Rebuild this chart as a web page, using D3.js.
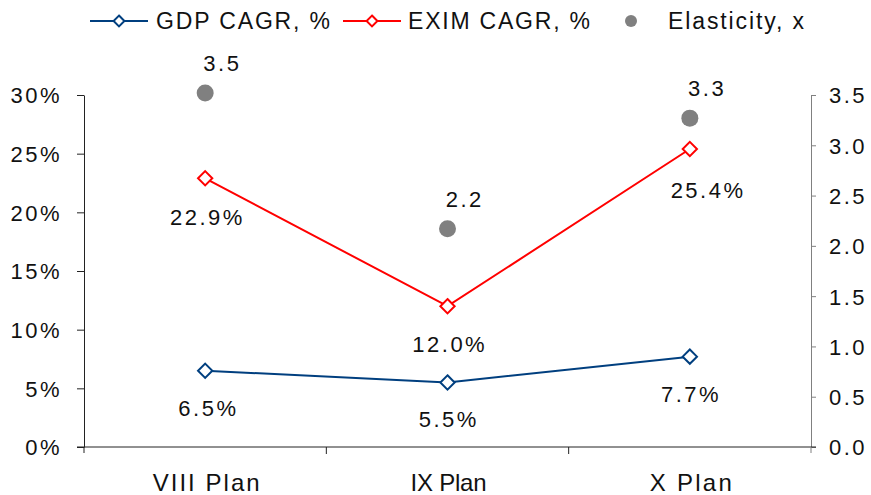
<!DOCTYPE html>
<html>
<head>
<meta charset="utf-8">
<script src="https://cdn.jsdelivr.net/npm/d3@7"></script>
<style>
  body { margin: 0; background: #fff; }
  svg text { font-family: "Liberation Sans", Arial, sans-serif; fill: #111; }
</style>
</head>
<body>
<svg id="chart" width="871" height="495"></svg>
<script>
// Plan periods and growth figures
const plans = ["VIII Plan", "IX Plan", "X Plan"];
const gdpCagr = [6.5, 5.5, 7.7];
const eximCagr = [22.9, 12.0, 25.4];
const elasticity = [3.52, 2.17, 3.27];
const leftTicks = [0, 5, 10, 15, 20, 25, 30];
const rightTicks = [0, 0.5, 1, 1.5, 2, 2.5, 3, 3.5];

const svg = d3.select("#chart");
const m = { left: 84, right: 811, top: 95, bottom: 447 };
const LS = 2.5; // tracking for numeric labels
const FS = "22px";

const x = d3.scaleBand().domain(plans).range([m.left, m.right]);
const yL = d3.scaleLinear().domain([0, 30]).range([m.bottom, m.top]);
const yR = d3.scaleLinear().domain([0, 3.5]).range([m.bottom, m.top]);
const cx = d => x(d) + x.bandwidth() / 2;

// Left axis
const gl = svg.append("g").attr("transform", `translate(${m.left},0)`)
  .call(d3.axisLeft(yL).tickValues(leftTicks).tickFormat(d => d + "%").tickSize(7).tickSizeOuter(0).tickPadding(15));
gl.select(".domain").attr("stroke", "#222");
gl.selectAll(".tick line").attr("stroke", "#222");
gl.selectAll("text").style("font-size", FS).style("letter-spacing", LS + "px")
  .attr("fill", "#111").attr("dy", "0.36em");

// Right axis
const gr = svg.append("g").attr("transform", `translate(${m.right},0)`)
  .call(d3.axisRight(yR).tickValues(rightTicks).tickFormat(d3.format(".1f")).tickSize(5).tickSizeOuter(0).tickPadding(13));
gr.selectAll("path, line").attr("stroke", "#808080");
gr.selectAll("text").style("font-size", FS).style("letter-spacing", LS + "px")
  .attr("fill", "#111").attr("dy", "0.36em");

// Bottom axis with ticks between categories
svg.append("line").attr("x1", m.left - 7).attr("x2", m.right + 5)
  .attr("y1", m.bottom).attr("y2", m.bottom).attr("stroke", "#222");
svg.selectAll(".xtick").data(plans.slice(1)).enter().append("line")
  .attr("x1", d => x(d)).attr("x2", d => x(d))
  .attr("y1", m.bottom).attr("y2", m.bottom + 7).attr("stroke", "#222");
[m.left, m.right].forEach(px => svg.append("line").attr("x1", px).attr("x2", px)
  .attr("y1", m.bottom).attr("y2", m.bottom + 6).attr("stroke", px === m.left ? "#222" : "#808080"));
const xLabW = { "VIII Plan": 107, "IX Plan": 76, "X Plan": 82 };
svg.selectAll(".xlab").data(plans).enter().append("text")
  .attr("x", d => cx(d) - xLabW[d] / 2 + 1).attr("y", 491)
  .attr("textLength", d => xLabW[d]).attr("lengthAdjust", "spacing")
  .style("font-size", "24px").text(d => d);

const diamond = d3.symbol().type(d3.symbolDiamond2).size(130);
const diamondSmall = d3.symbol().type(d3.symbolDiamond2).size(75);

function series(vals, color, labelDy, labelDx) {
  svg.append("path")
    .datum(vals)
    .attr("fill", "none").attr("stroke", color).attr("stroke-width", 2)
    .attr("d", d3.line().x((d, i) => cx(plans[i])).y(d => yL(d)));
  svg.selectAll(null).data(vals).enter().append("path")
    .attr("d", diamond)
    .attr("transform", (d, i) => `translate(${cx(plans[i])},${yL(d)})`)
    .attr("fill", "#fff").attr("stroke", color).attr("stroke-width", 2);
  svg.selectAll(null).data(vals).enter().append("text")
    .attr("x", (d, i) => cx(plans[i]) + labelDx[i] + LS / 2)
    .attr("y", (d, i) => yL(d) + labelDy[i])
    .attr("text-anchor", "middle").style("font-size", FS).style("letter-spacing", LS + "px")
    .text(d => d3.format(".1f")(d) + "%");
}

series(eximCagr, "#ff0000", [47, 46, 49], [1, 1, 17]);
series(gdpCagr, "#003f7f", [45, 45, 45], [2, 0, 0]);

// Elasticity points
svg.selectAll(null).data(elasticity).enter().append("circle")
  .attr("cx", (d, i) => cx(plans[i])).attr("cy", d => yR(d))
  .attr("r", 8.5).attr("fill", "#808080");
svg.selectAll(null).data(elasticity).enter().append("text")
  .attr("x", (d, i) => cx(plans[i]) + 16 + LS / 2)
  .attr("y", d => yR(d) - 22)
  .attr("text-anchor", "middle").style("font-size", FS).style("letter-spacing", LS + "px")
  .text(d => d3.format(".1f")(d));

// Legend
const lg = svg.append("g").attr("class", "legend");
const items = [
  { label: "GDP CAGR, %", color: "#003f7f", x: 90, tx: 156, w: 174, type: "line" },
  { label: "EXIM CAGR, %", color: "#ff0000", x: 343, tx: 408, w: 182, type: "line" },
  { label: "Elasticity, x", color: "#808080", x: 631, tx: 668, w: 136, type: "dot" }
];
items.forEach(it => {
  if (it.type === "line") {
    lg.append("line").attr("x1", it.x).attr("x2", it.x + 58).attr("y1", 21).attr("y2", 21)
      .attr("stroke", it.color).attr("stroke-width", 2);
    lg.append("path").attr("d", diamondSmall).attr("transform", `translate(${it.x + 29},21)`)
      .attr("fill", "#fff").attr("stroke", it.color).attr("stroke-width", 2);
  } else {
    lg.append("circle").attr("cx", it.x).attr("cy", 21).attr("r", 6).attr("fill", it.color);
  }
  lg.append("text").attr("x", it.tx).attr("y", 29)
    .attr("textLength", it.w).attr("lengthAdjust", "spacing")
    .style("font-size", "23px").text(it.label);
});
</script>
</body>
</html>
